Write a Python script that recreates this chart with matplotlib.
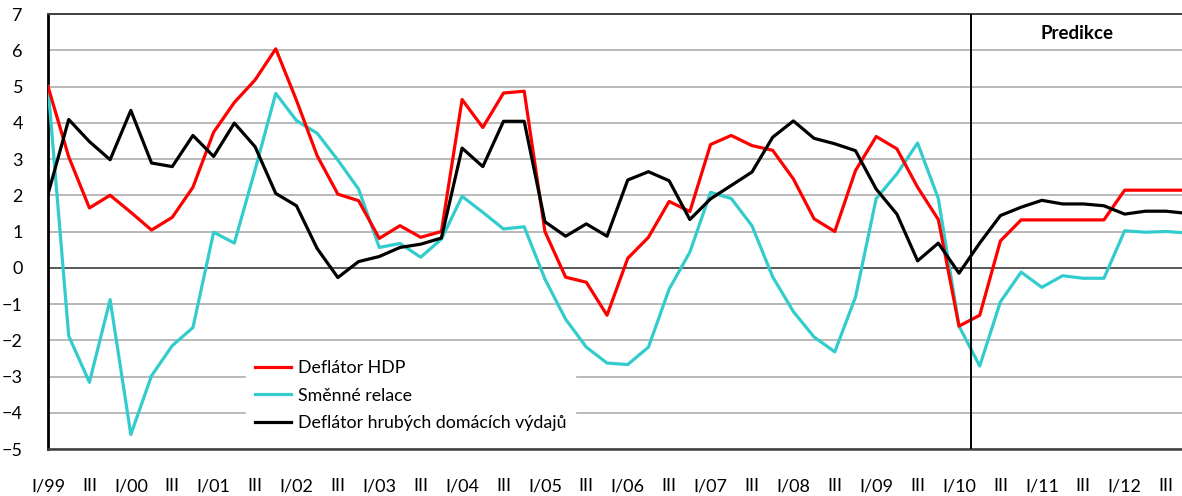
import matplotlib
matplotlib.use("Agg")
import matplotlib.pyplot as plt
import numpy as np

plt.rcParams['font.family'] = ['Lato', 'DejaVu Sans']

# quarterly data I/99 .. IV/12
years = [str(y % 100).zfill(2) for y in range(1999, 2013)]
quarters = [f"{q}/{yy}" for yy in years for q in ["I", "II", "III", "IV"]]

deflator_hdp = [5.0, 3.06, 1.65, 2.0, 1.53, 1.04, 1.39, 2.22,
                3.74, 4.56, 5.18, 6.04, 4.62, 3.09, 2.03, 1.85,
                0.81, 1.16, 0.84, 1.0, 4.64, 3.87, 4.82, 4.87,
                1.0, -0.26, -0.4, -1.31, 0.26, 0.84, 1.83, 1.55,
                3.4, 3.65, 3.37, 3.24, 2.45, 1.35, 1.0, 2.68,
                3.62, 3.28, 2.22, 1.33, -1.61, -1.31, 0.74, 1.32,
                1.32, 1.32, 1.32, 1.32, 2.14, 2.14, 2.14, 2.14]

smenne_relace = [5.0, -1.88, -3.16, -0.88, -4.6, -2.98, -2.15, -1.65,
                 0.98, 0.68, 2.7, 4.81, 4.06, 3.71, 2.97, 2.17,
                 0.56, 0.67, 0.29, 0.79, 1.97, 1.53, 1.07, 1.13,
                 -0.31, -1.42, -2.19, -2.63, -2.67, -2.19, -0.59, 0.43,
                 2.08, 1.91, 1.16, -0.25, -1.21, -1.91, -2.32, -0.81,
                 1.91, 2.59, 3.44, 1.91, -1.61, -2.71, -0.94, -0.12,
                 -0.54, -0.22, -0.29, -0.29, 1.02, 0.98, 1.0, 0.96]

deflator_hdv = [2.03, 4.09, 3.48, 2.98, 4.34, 2.89, 2.79, 3.65,
                3.07, 3.99, 3.34, 2.05, 1.71, 0.53, -0.27, 0.17,
                0.31, 0.56, 0.65, 0.82, 3.3, 2.79, 4.04, 4.04,
                1.27, 0.87, 1.21, 0.87, 2.42, 2.65, 2.4, 1.33,
                1.9, 2.27, 2.64, 3.6, 4.05, 3.57, 3.42, 3.23,
                2.17, 1.48, 0.19, 0.68, -0.15, 0.68, 1.44, 1.67,
                1.86, 1.76, 1.76, 1.71, 1.48, 1.56, 1.56, 1.5]

x = np.arange(len(quarters))
tick_labels = [q if q.startswith("I/") else "III" for q in quarters[::2]]

fig = plt.figure(figsize=(11.82, 4.96), dpi=100)
ax = fig.add_axes([48 / 1182, 1 - 449 / 496, 1 - 48 / 1182, 435 / 496])

ax.plot(x, deflator_hdp, color='#ff0000', lw=2.3, label='Deflátor HDP', zorder=4)
ax.plot(x, smenne_relace, color='#33cccc', lw=2.3, label='Směnné relace', zorder=3)
ax.plot(x, deflator_hdv, color='black', lw=2.3, label='Deflátor hrubých domácích výdajů', zorder=5)

ax.set_xlim(0, 54.77)
ax.set_ylim(-5, 7)
ax.set_yticks(range(-5, 8))
ax.set_xticks(x[::2])
ax.set_xticklabels(tick_labels)
ax.set_xticks(x[::4], minor=True)
ax.tick_params(axis='both', which='both', length=0, labelsize=13)
ax.tick_params(axis='x', pad=21)
ax.tick_params(axis='y', pad=18)

ax.grid(axis='y', color='#a6a6a6', lw=1.1)
ax.grid(axis='x', which='minor', color='#b8b8b8', lw=1.2)
ax.set_axisbelow(True)
ax.axhline(0, color='#404040', lw=1.1, zorder=2)

# prediction start
ax.axvline(44.6, color='black', lw=1.4, zorder=6)
ax.text(49.7, 6.45, 'Predikce', fontsize=13.5, fontweight='bold', ha='center', va='center')

ax.spines['left'].set_linewidth(2)
ax.spines['left'].set_color('black')
ax.spines['bottom'].set_linewidth(1.8)
ax.spines['bottom'].set_color('#404040')
ax.spines['top'].set_linewidth(1.4)
ax.spines['top'].set_color('#404040')
ax.spines['right'].set_visible(False)

leg = ax.legend(loc='lower left', bbox_to_anchor=(0.175, 0.02), borderaxespad=0,
                fontsize=12.8, frameon=True, fancybox=False, handlelength=2.0,
                handletextpad=0.4, labelspacing=0.66, borderpad=0.5)
leg.get_frame().set_facecolor('white')
leg.get_frame().set_edgecolor('white')
leg.get_frame().set_alpha(1)

fig.savefig('out.png', dpi=100)
